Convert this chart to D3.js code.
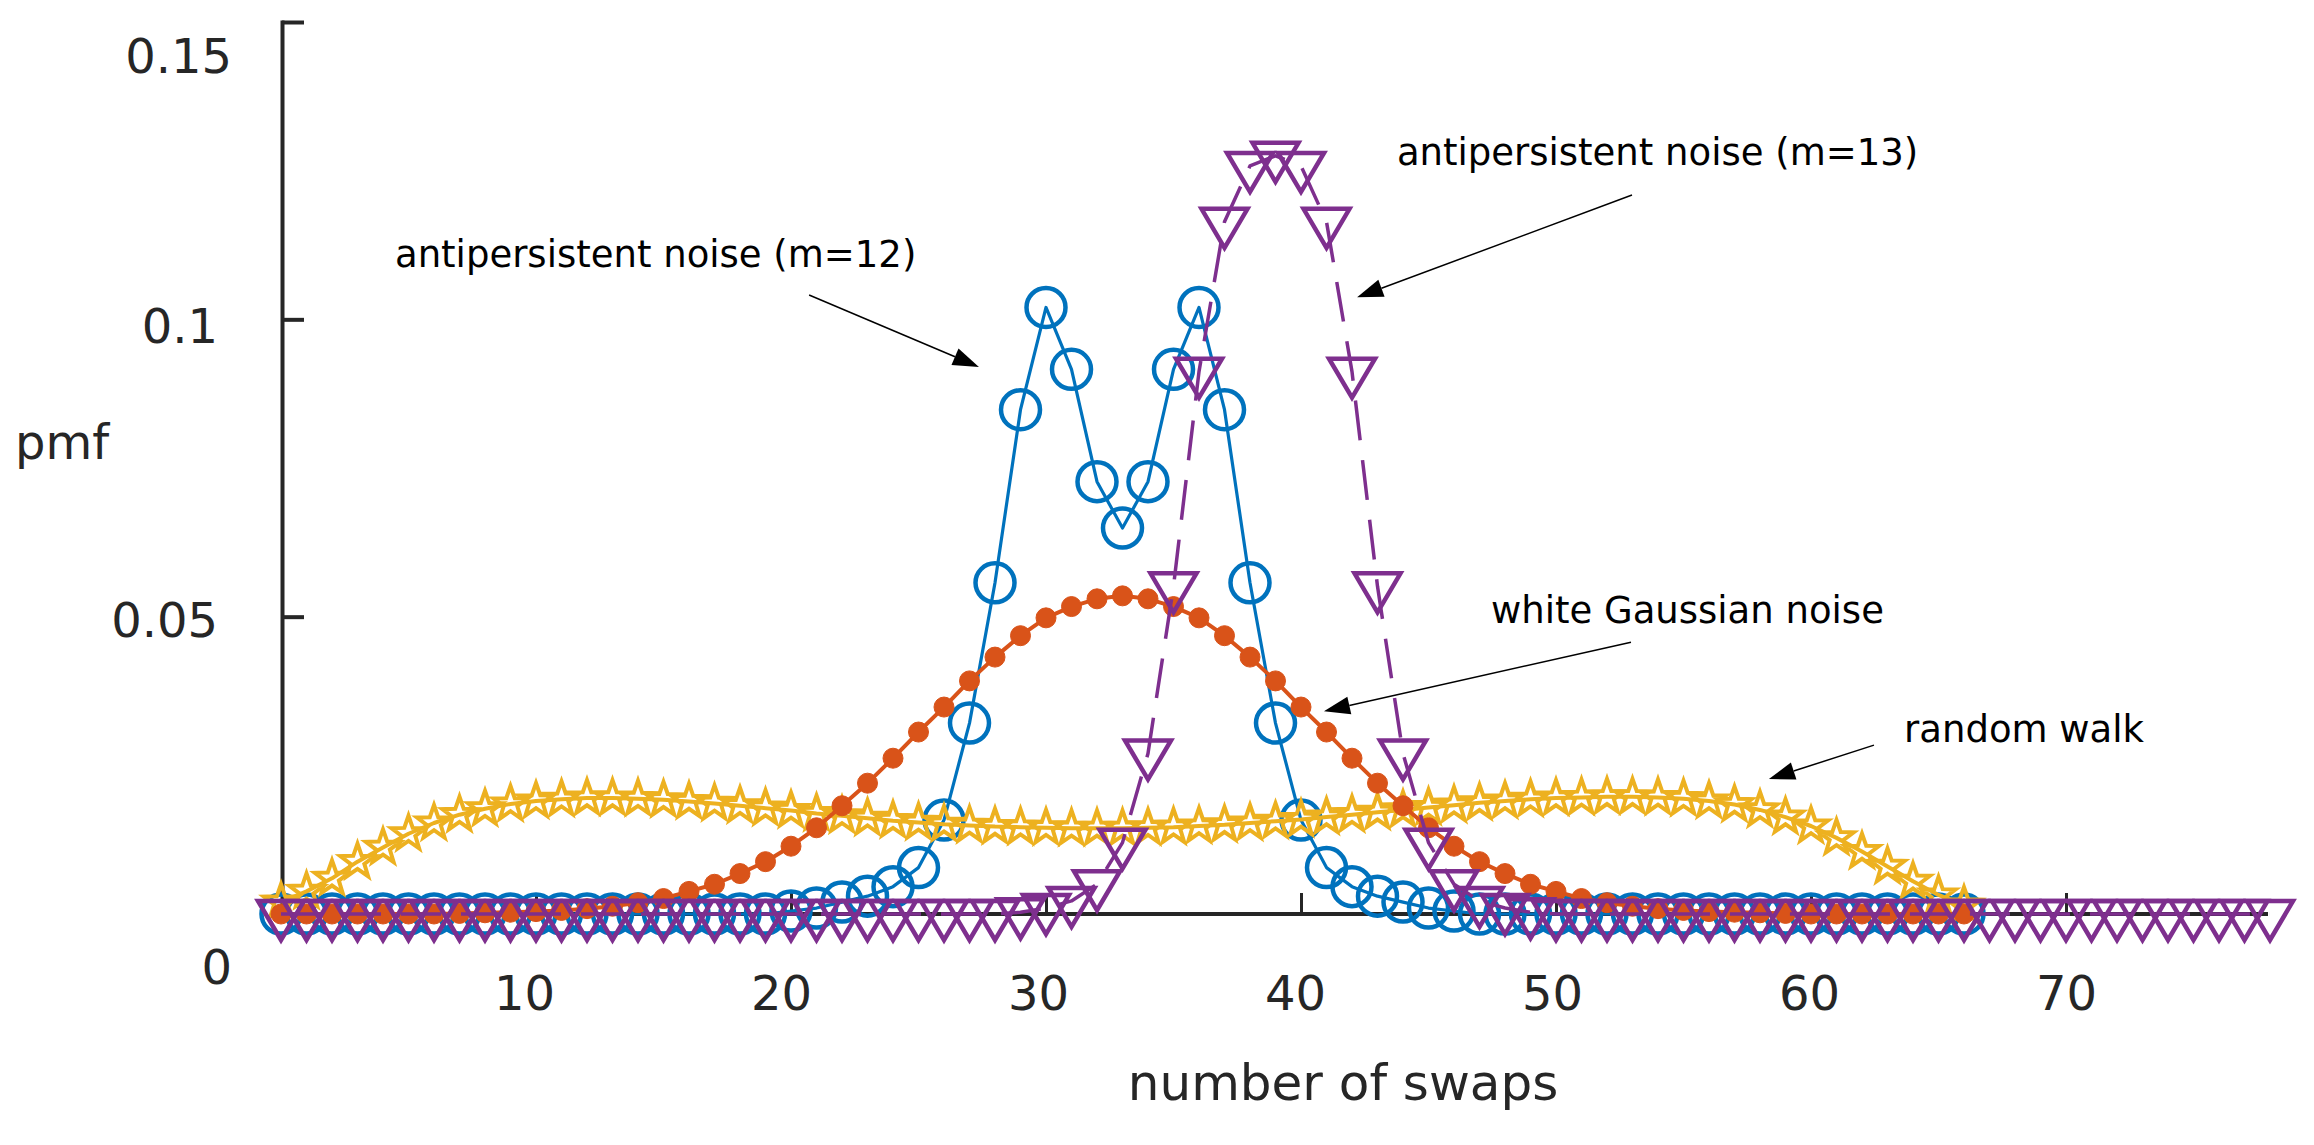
<!DOCTYPE html>
<html><head><meta charset="utf-8">
<script src="https://cdn.jsdelivr.net/npm/d3@7"></script>
<style>body{margin:0;background:#fff}svg{display:block}</style>
</head><body><svg id="c" width="2314" height="1145"></svg>
<script>
// ---------- data ----------
const xTicks = [10, 20, 30, 40, 50, 60, 70];
const yTicks = [0, 0.05, 0.1, 0.15];
const yTickLabels = ["0", "0.05", "0.1", "0.15"];

// pmf values, index = number of swaps
const antipersistentM12 = [
  0,0,0,0,0,0,0,0,0,0,
  0,0,0,0,0,0,0,0,0,0,
  0.0005,0.0010,0.0020,0.0030,0.0046,0.0078,0.0158,0.0321,0.0557,0.0848,
  0.1020,0.0916,0.0727,0.0649,0.0727,0.0916,0.1020,0.0848,0.0557,0.0321,
  0.0158,0.0078,0.0046,0.0030,0.0020,0.0010,0.0005,0,0,0,
  0,0,0,0,0,0,0,0,0,0,
  0,0,0,0,0,0,0
];
const whiteGaussian = [
  0,0,0,0,0,0,0,0.0001,0.0002,0.0003,
  0.0004,0.0006,0.0009,0.0013,0.0019,0.0026,0.0038,0.0050,0.0068,0.0088,
  0.0114,0.0145,0.0182,0.0220,0.0262,0.0306,0.0348,0.0392,0.0432,0.0468,
  0.0498,0.0517,0.0530,0.0535,0.0530,0.0517,0.0498,0.0468,0.0432,0.0392,
  0.0348,0.0306,0.0262,0.0220,0.0182,0.0145,0.0114,0.0088,0.0068,0.0050,
  0.0038,0.0026,0.0019,0.0013,0.0009,0.0006,0.0004,0.0003,0.0002,0.0001,
  0,0,0,0,0,0,0
];
const randomWalk = [
  0.0020,0.0038,0.0060,0.0088,0.0112,0.0135,0.0153,0.0167,0.0177,0.0185,
  0.0190,0.0193,0.0195,0.0195,0.0194,0.0192,0.0189,0.0186,0.0182,0.0178,
  0.0174,0.0169,0.0165,0.0161,0.0157,0.0154,0.0151,0.0149,0.0147,0.0146,
  0.0145,0.0144,0.0144,0.0144,0.0145,0.0146,0.0148,0.0150,0.0153,0.0156,
  0.0159,0.0163,0.0167,0.0171,0.0175,0.0179,0.0183,0.0187,0.0190,0.0193,
  0.0195,0.0196,0.0197,0.0197,0.0196,0.0194,0.0190,0.0184,0.0175,0.0163,
  0.0148,0.0128,0.0105,0.0080,0.0055,0.0032,0.0015
];
const antipersistentM13 = [
  0,0,0,0,0,0,0,0,0,0,
  0,0,0,0,0,0,0,0,0,0,
  0,0,0,0,0,0,0,0,0,0.0003,
  0.0010,0.0022,0.0050,0.0120,0.0270,0.0551,0.0912,0.1164,0.1258,0.1275,
  0.1258,0.1164,0.0912,0.0551,0.0270,0.0120,0.0050,0.0022,0.0010,0.0003,
  0,0,0,0,0,0,0,0,0,0,
  0,0,0,0,0,0,0,0,0,0,
  0,0,0,0,0,0,0,0,0
];

// annotations in data units
const annotations = [
  {text: "antipersistent noise (m=12)", tx: 4.47, ty: 0.1088, x1: 20.71, y1: 0.1041, x2: 27.37, y2: 0.0920},
  {text: "antipersistent noise (m=13)", tx: 43.76, ty: 0.1259, x1: 52.98, y1: 0.1209, x2: 42.20, y2: 0.1037},
  {text: "white Gaussian noise", tx: 47.45, ty: 0.0489, x1: 52.94, y1: 0.0457, x2: 40.90, y2: 0.0341},
  {text: "random walk", tx: 63.65, ty: 0.0289, x1: 62.47, y1: 0.0284, x2: 58.35, y2: 0.0227}
];

// ---------- drawing ----------
const svg = d3.select("#c");
svg.append("rect").attr("width", 2314).attr("height", 1145).attr("fill", "#fff");
const FONT = "DejaVu Sans, sans-serif";
const AX = "#262626";

const x = d3.scaleLinear().domain([0, 78]).range([281, 2270]);
const y = d3.scaleLinear().domain([0, 0.15]).range([914, 22]);

// axes
const gx = svg.append("g").attr("transform", `translate(0,${y(0)})`)
  .call(d3.axisBottom(x).tickValues(xTicks).tickSizeInner(-21).tickSizeOuter(0).tickFormat(d3.format("d")));
gx.select(".domain").attr("stroke", AX).attr("stroke-width", 4).attr("d", `M${x(0)},0H${x(78) - 2}`);
gx.selectAll(".tick line").attr("stroke", AX).attr("stroke-width", 3);
gx.selectAll(".tick text").attr("fill", AX).attr("font-family", FONT).attr("font-size", 48)
  .attr("y", 96).attr("dy", 0).attr("dx", d => -14 + 2 * d / 10);

const gy = svg.append("g").attr("transform", `translate(${x(0) + 1},0)`)
  .call(d3.axisLeft(y).tickValues(yTicks).tickSizeInner(-22).tickSizeOuter(0)
    .tickFormat((d, i) => yTickLabels[i]));
gy.select(".domain").attr("stroke", AX).attr("stroke-width", 4).attr("stroke-linecap", "square");
gy.selectAll(".tick line").attr("stroke", AX).attr("stroke-width", 4);
const yLabelShift = [[-50, 69], [-64, 20], [-64, 23], [-50, 50]];
gy.selectAll(".tick text").attr("fill", AX).attr("font-family", FONT).attr("font-size", 48)
  .attr("text-anchor", "end").attr("dy", 0)
  .attr("x", (d, i) => yLabelShift[i][0]).attr("y", (d, i) => yLabelShift[i][1]);

// axis titles
svg.append("text").attr("x", 15).attr("y", 459).attr("font-family", FONT).attr("font-size", 48)
  .attr("fill", AX).text("pmf");
svg.append("text").attr("x", 1343).attr("y", 1100).attr("text-anchor", "middle")
  .attr("font-family", FONT).attr("font-size", 50).attr("fill", AX).text("number of swaps");

// symbols
function starPath(R) {
  const r = R * 0.40;
  const pts = [];
  for (let k = 0; k < 10; k++) {
    const a = -Math.PI / 2 + k * Math.PI / 5;
    const rr = k % 2 === 0 ? R : r;
    pts.push([rr * Math.cos(a), rr * Math.sin(a)]);
  }
  return "M" + pts.map(p => p[0].toFixed(2) + "," + p[1].toFixed(2)).join("L") + "Z";
}
function triDownPath(hw, h) {
  return `M${-hw},${-h / 3}L${hw},${-h / 3}L0,${2 * h / 3}Z`;
}

function drawSeries(vals, opt) {
  const g = svg.append("g");
  const line = d3.line().x((d, i) => x(i)).y(d => y(d));
  const p = g.append("path").attr("d", line(vals)).attr("fill", "none")
    .attr("stroke", opt.color).attr("stroke-width", opt.lw).attr("stroke-linejoin", "round");
  if (opt.dash) p.attr("stroke-dasharray", opt.dash);
  const m = g.selectAll(".m").data(vals).join("path")
    .attr("transform", (d, i) => `translate(${x(i)},${y(d)})`)
    .attr("d", opt.shape)
    .attr("fill", opt.fill || "none")
    .attr("stroke", opt.color).attr("stroke-width", opt.mlw)
    .attr("stroke-linejoin", "miter").attr("stroke-miterlimit", 10);
}

const circlePath = r => `M${r},0A${r},${r} 0 1,1 ${-r},0A${r},${r} 0 1,1 ${r},0Z`;

drawSeries(antipersistentM12, {color: "#0072BD", lw: 3.2, mlw: 4.5, shape: circlePath(19.5)});
drawSeries(randomWalk, {color: "#EDB120", lw: 4, mlw: 4, shape: starPath(18)});
drawSeries(whiteGaussian, {color: "#D95319", lw: 4, mlw: 1, fill: "#D95319", shape: circlePath(10)});
drawSeries(antipersistentM13, {color: "#7E2F8E", lw: 3.5, mlw: 4.5, dash: "40,20", shape: triDownPath(23, 39)});

// annotations
const ga = svg.append("g");
annotations.forEach(a => {
  ga.append("text").attr("x", x(a.tx)).attr("y", y(a.ty)).attr("font-family", FONT)
    .attr("font-size", 37).attr("fill", "#000").text(a.text);
  const X1 = x(a.x1), Y1 = y(a.y1), X2 = x(a.x2), Y2 = y(a.y2);
  const dx = X2 - X1, dy = Y2 - Y1, L = Math.hypot(dx, dy);
  const ux = dx / L, uy = dy / L, hl = 26, hw = 9;
  const bx = X2 - ux * hl, by = Y2 - uy * hl;
  ga.append("line").attr("x1", X1).attr("y1", Y1).attr("x2", bx).attr("y2", by)
    .attr("stroke", "#000").attr("stroke-width", 1.5);
  ga.append("path").attr("d", `M${X2},${Y2}L${bx - uy * hw},${by + ux * hw}L${bx + uy * hw},${by - ux * hw}Z`)
    .attr("fill", "#000");
});
</script></body></html>
